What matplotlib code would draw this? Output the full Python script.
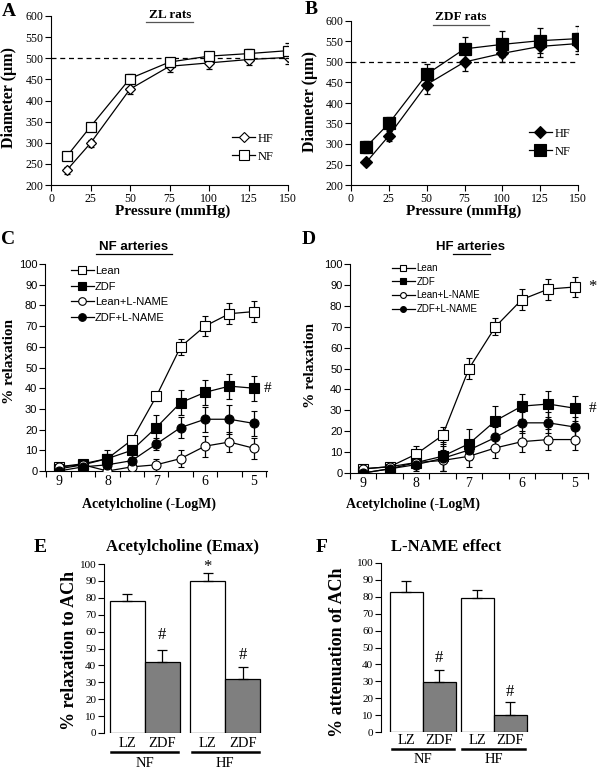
import matplotlib
matplotlib.use("Agg")
import matplotlib.pyplot as plt
from matplotlib.lines import Line2D

SERIF = "Liberation Serif"
SANS = "Liberation Sans"
W, H = 600, 773

# ============ data: pressure-diameter (A, B) ============
pressure = [10, 25, 50, 75, 100, 125, 150]
zl_hf = [235, 299, 427, 481, 489, 497, 502]
zl_hf_err = [8, 8, 12, 14, 14, 14, 16]
zl_nf = [268, 338, 452, 491, 505, 511, 518]
zl_nf_err = [6, 6, 10, 10, 10, 12, 17]
zdf_hf = [255, 320, 445, 500, 521, 538, 545]
zdf_hf_err = [6, 12, 22, 22, 22, 25, 25]
zdf_nf = [293, 350, 470, 532, 543, 552, 557]
zdf_nf_err = [15, 15, 25, 28, 32, 30, 30]

# ============ data: ACh concentration-response (C, D) ============
ach = [9, 8.5, 8, 7.5, 7, 6.5, 6, 5.5, 5]
ach_ticks = [9, 8, 7, 6, 5]
series_names = ["Lean", "ZDF", "Lean+L-NAME", "ZDF+L-NAME"]

nf_lean = [2, 3.5, 6, 15, 36, 60, 70, 76, 77]
nf_lean_err = [1, 1, 2, 2, 2, 4, 5, 5, 5]
nf_zdf = [1, 3, 6, 10, 21, 33, 38, 41, 40]
nf_zdf_err = [1, 1, 4, 5, 6, 6, 6, 6, 6]
nf_lean_ln = [2, 3, 0, 2, 3, 6, 12, 14, 11]
nf_lean_ln_err = [1, 1, 1, 1, 3, 4, 5, 5, 5]
nf_zdf_ln = [0, 2, 3, 5, 13, 21, 25, 25, 23]
nf_zdf_ln_err = [1, 1, 1, 2, 3, 5, 6, 7, 6]

hf_lean = [2, 3, 9, 18, 50, 70, 83, 88, 89]
hf_lean_err = [1, 1, 4, 4, 5, 4, 5, 5, 5]
hf_zdf = [0, 2, 5, 8, 14, 25, 32, 33, 31]
hf_zdf_err = [1, 1, 2, 7, 7, 7, 6, 6, 6]
hf_lean_ln = [2, 3, 5, 6, 8, 12, 15, 16, 16]
hf_lean_ln_err = [1, 1, 2, 5, 5, 5, 5, 5, 5]
hf_zdf_ln = [0, 2, 4, 7, 11, 17, 24, 24, 22]
hf_zdf_ln_err = [1, 1, 3, 6, 5, 5, 5, 5, 5]

# ============ data: bar panels (E, F) ============
groups = ["NF", "HF"]
bar_labels = ["LZ", "ZDF"]
emax_lz = [78, 90]
emax_lz_err = [4, 4.5]
emax_zdf = [42, 32]
emax_zdf_err = [7, 7]
att_lz = [83, 79]
att_lz_err = [6.5, 5]
att_zdf = [29.5, 10]
att_zdf_err = [7, 8]


fig = plt.figure(figsize=(6, 7.73), dpi=100)


def px_axes(l, t, r, b):
    return fig.add_axes([l / W, 1 - b / H, (r - l) / W, (b - t) / H])


def ftext(x, y, s, **kw):
    kw.setdefault("ha", "center")
    kw.setdefault("va", "center")
    fig.text(x / W, 1 - y / H, s, **kw)


def underline(x0, x1, y, color="black", lw=0.9):
    fig.add_artist(Line2D([x0 / W, x1 / W], [1 - y / H, 1 - y / H],
                          color=color, lw=lw, transform=fig.transFigure))


def handle(marker, fc, ms):
    return Line2D([], [], color="black", lw=0.9, marker=marker, ms=ms,
                  mfc=fc, mec="black", mew=0.8)


def basic_axes(ax):
    ax.spines["top"].set_visible(False)
    ax.spines["right"].set_visible(False)
    ax.tick_params(direction="out", length=4, width=0.8, pad=1.5)


# ============ A / B ============
def pressure_panel(ax, hf, hf_err, nf, nf_err, filled, ms_sq, ms_di):
    basic_axes(ax)
    fc = "black" if filled else "white"
    ax.axhline(500, color="black", ls=(0, (4, 3)), lw=0.9, zorder=1)
    ax.errorbar(pressure, hf, yerr=hf_err, color="black", lw=0.9, marker="D",
                ms=ms_di, mfc=fc, mec="black", mew=0.9, capsize=2.5,
                elinewidth=0.9, zorder=3)
    ax.errorbar(pressure, nf, yerr=nf_err, color="black", lw=0.9, marker="s",
                ms=ms_sq, mfc=fc, mec="black", mew=0.9, capsize=2.5,
                elinewidth=0.9, zorder=4)
    ax.set_xlim(0, 150)
    ax.set_ylim(200, 600)
    ax.set_xticks([0, 25, 50, 75, 100, 125, 150])
    ax.set_yticks(range(200, 601, 50))
    for lab in ax.get_xticklabels() + ax.get_yticklabels():
        lab.set_fontfamily(SERIF)
        lab.set_fontsize(8.5)
    ax.legend([handle("D", fc, ms_di), handle("s", fc, ms_sq)], ["HF", "NF"],
              loc="upper left", frameon=False,
              prop={"family": SERIF, "size": 9}, handlelength=1.8,
              handletextpad=0.2, labelspacing=0.5, borderpad=0,
              borderaxespad=0,
              bbox_to_anchor=(0.765, 0.31) if not filled else (0.785, 0.35))


axA = px_axes(51, 16, 288, 185)
pressure_panel(axA, zl_hf, zl_hf_err, zl_nf, zl_nf_err, False, 7, 5.5)

axB = px_axes(351, 21, 578, 185)
pressure_panel(axB, zdf_hf, zdf_hf_err, zdf_nf, zdf_nf_err, True, 8, 6)

ftext(9, 12, "A", family=SERIF, weight="bold", size=14)
ftext(311, 10, "B", family=SERIF, weight="bold", size=14)
ftext(170, 15, "ZL rats", family=SERIF, weight="bold", size=9.5)
underline(146, 193, 22, color="#555555")
ftext(461, 17, "ZDF rats", family=SERIF, weight="bold", size=9.5)
underline(433, 489, 25, color="#555555")
ftext(9, 98, "Diameter (\u00b5m)", family=SERIF, weight="bold", size=11.5,
      rotation=90)
ftext(310, 102, "Diameter (\u00b5m)", family=SERIF, weight="bold", size=11.5,
      rotation=90)
ftext(173, 211, "Pressure (mmHg)", family=SERIF, weight="bold", size=11)
ftext(464, 211, "Pressure (mmHg)", family=SERIF, weight="bold", size=11)


# ============ C / D ============
ach_styles = [("s", "white"), ("s", "black"), ("o", "white"), ("o", "black")]


def ach_panel(ax, data, xlim):
    basic_axes(ax)
    for (vals, errs), (mk, fc) in zip(data, ach_styles):
        ax.errorbar(ach, vals, yerr=errs, color="black", lw=0.9, marker=mk,
                    ms=6.5, mfc=fc, mec="black", mew=0.8, capsize=2.5,
                    elinewidth=0.9, zorder=3)
    ax.set_xlim(*xlim)
    ax.set_ylim(0, 100)
    ax.set_yticks(range(0, 101, 10))
    ax.set_xticks(ach_ticks)
    ax.set_xticks([9.25 - 0.5 * i for i in range(10)], minor=True)
    ax.tick_params(axis="x", which="major", length=0, pad=3)
    ax.tick_params(axis="x", which="minor", length=4, width=0.8)
    for lab in ax.get_yticklabels():
        lab.set_fontfamily(SANS)
        lab.set_fontsize(8)
    for lab in ax.get_xticklabels():
        lab.set_fontfamily(SERIF)
        lab.set_fontsize(10)


axC = px_axes(45, 264, 267, 471)
ach_panel(axC, [(nf_lean, nf_lean_err), (nf_zdf, nf_zdf_err),
                (nf_lean_ln, nf_lean_ln_err), (nf_zdf_ln, nf_zdf_ln_err)],
          (9.28, 4.73))
axC.legend([handle(m, f, 5.5) for m, f in ach_styles], series_names,
           loc="upper left", bbox_to_anchor=(0.115, 0.99), frameon=False,
           prop={"family": SANS, "size": 8}, handlelength=2.1,
           handletextpad=0.1, labelspacing=0.5, borderpad=0, borderaxespad=0)
axC.text(4.71, 40, "#", family=SERIF, size=11, ha="center", va="center",
         clip_on=False)

axD = px_axes(350, 264, 588, 473)
ach_panel(axD, [(hf_lean, hf_lean_err), (hf_zdf, hf_zdf_err),
                (hf_lean_ln, hf_lean_ln_err), (hf_zdf_ln, hf_zdf_ln_err)],
          (9.245, 4.755))
axD.legend([handle(m, f, 4.2) for m, f in ach_styles], series_names,
           loc="upper left", bbox_to_anchor=(0.175, 1.005), frameon=False,
           prop={"family": SANS, "size": 7}, handlelength=2.4,
           handletextpad=0.15, labelspacing=0.38, borderpad=0,
           borderaxespad=0)
axD.text(4.66, 89, "*", family=SERIF, size=12, ha="center", va="center",
         clip_on=False)
axD.text(4.66, 31, "#", family=SERIF, size=11, ha="center", va="center",
         clip_on=False)

ftext(8, 239, "C", family=SERIF, weight="bold", size=14)
ftext(309, 239, "D", family=SERIF, weight="bold", size=14)
ftext(134, 247, "NF arteries", family=SANS, weight="bold", size=9.5)
underline(96, 172, 254)
ftext(471, 247, "HF arteries", family=SANS, weight="bold", size=9.5)
underline(453, 490, 254)
ftext(10, 362, "% relaxation", family=SERIF, weight="bold", size=11,
      rotation=90)
ftext(311, 365, "% relaxation", family=SERIF, weight="bold", size=11,
      rotation=90)
ftext(149, 504, "Acetylcholine (-LogM)", family=SERIF, weight="bold", size=10)
ftext(413, 504, "Acetylcholine (-LogM)", family=SERIF, weight="bold", size=10)


# ============ E / F ============
def bar_panel(ax, lz, lz_err, zdf, zdf_err, pos, xlim, marks, lab_y, line_y,
              grp_y):
    ax.spines["top"].set_visible(False)
    ax.spines["right"].set_visible(False)
    ax.spines["bottom"].set_visible(False)
    ax.tick_params(axis="y", direction="out", length=4, width=0.8, pad=1.5)
    ax.tick_params(axis="x", length=0)
    lz_pos = [pos[0], pos[2]]
    zdf_pos = [pos[1], pos[3]]
    ax.bar(lz_pos, lz, width=1.0, color="white", edgecolor="black", lw=0.9)
    ax.bar(zdf_pos, zdf, width=1.0, color="#7f7f7f", edgecolor="black", lw=0.9)
    ax.errorbar(lz_pos, lz, yerr=[[0, 0], lz_err], fmt="none", ecolor="black",
                elinewidth=0.9, capsize=3.5, capthick=0.9)
    ax.errorbar(zdf_pos, zdf, yerr=[[0, 0], zdf_err], fmt="none",
                ecolor="black", elinewidth=0.9, capsize=3.5, capthick=0.9)
    ax.set_xlim(*xlim)
    ax.set_ylim(0, 100)
    ax.set_yticks(range(0, 101, 10))
    ax.set_xticks([])
    for lab in ax.get_yticklabels():
        lab.set_fontfamily(SERIF)
        lab.set_fontsize(8)
    tr = ax.get_xaxis_transform()
    for i, p in enumerate(pos):
        ax.text(p, lab_y, bar_labels[i % 2], family=SERIF, size=10.5,
                ha="center", va="center", transform=tr, clip_on=False)
    for g, (a, b) in enumerate([(pos[0], pos[1]), (pos[2], pos[3])]):
        ax.plot([a - 0.45, b + 0.45], [line_y, line_y], color="black", lw=1.8,
                transform=tr, clip_on=False)
        ax.text((a + b) / 2, grp_y, groups[g], family=SERIF, size=10.5,
                ha="center", va="center", transform=tr, clip_on=False)
    for x, y, s in marks:
        ax.text(x, y, s, family=SERIF, size=12, ha="center", va="center",
                clip_on=False)


axE = px_axes(104, 564, 264, 733)
bar_panel(axE, emax_lz, emax_lz_err, emax_zdf, emax_zdf_err,
          [0, 1, 2.3, 3.3], (-0.66, 3.9),
          [(2.3, 98.5, "*"), (1, 58, "#"), (3.3, 46, "#")],
          -0.06, -0.115, -0.18)

axF = px_axes(381, 563, 530, 732)
bar_panel(axF, att_lz, att_lz_err, att_zdf, att_zdf_err,
          [0, 1, 2.15, 3.15], (-0.77, 3.75),
          [(1, 43.5, "#"), (3.15, 23.5, "#")],
          -0.05, -0.1, -0.165)

ftext(40, 548, "E", family=SERIF, weight="bold", size=14)
ftext(322, 548, "F", family=SERIF, weight="bold", size=14)
ftext(182, 547, "Acetylcholine (Emax)", family=SERIF, weight="bold", size=12)
ftext(446, 547, "L-NAME effect", family=SERIF, weight="bold", size=12)
ftext(70, 650, "% relaxation to ACh", family=SERIF, weight="bold", size=13,
      rotation=90)
ftext(338, 652, "% attenuation of ACh", family=SERIF, weight="bold", size=13,
      rotation=90)

fig.savefig("out.png", dpi=100)
